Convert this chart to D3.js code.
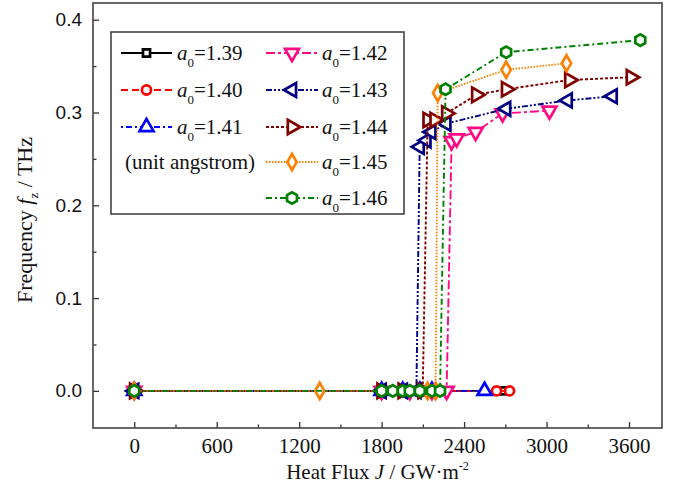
<!DOCTYPE html>
<html>
<head>
<meta charset="utf-8">
<script src="https://cdn.jsdelivr.net/npm/d3@7"></script>
<style>
  body { margin: 0; background: #fff; }
  svg { display: block; }
</style>
</head>
<body>
<script>
//==DATA==//
// heat flux J (GW/m2) and frequency f_z (THz) per lattice constant a0
const seriesNames = ["1.39", "1.40", "1.41", "1.42", "1.43", "1.44", "1.45", "1.46"];

const flux139 = [0, 1800, 1954, 2078, 2166, 2680];
const freq139 = [0, 0, 0, 0, 0, 0];
const flux140 = [0, 1800, 1954, 2078, 2166, 2636, 2731];
const freq140 = [0, 0, 0, 0, 0, 0, 0];
const flux141 = [0, 1800, 1954, 2078, 2166, 2549];
const freq141 = [0, 0, 0, 0, 0, 0];
const flux142 = [0, 1800, 2005, 2166, 2273, 2309, 2346, 2484, 2680, 3021];
const freq142 = [0, 0, 0, 0, 0, 0.269, 0.272, 0.279, 0.299, 0.302];
const flux143 = [0, 1800, 1954, 2053, 2077, 2126, 2162, 2271, 2706, 3154, 3481];
const freq143 = [0, 0, 0, 0, 0.263, 0.270, 0.279, 0.288, 0.304, 0.313, 0.3175];
const flux144 = [0, 1800, 1954, 2099, 2135, 2186, 2271, 2489, 2706, 3166, 3614];
const freq144 = [0, 0, 0, 0, 0.292, 0.292, 0.299, 0.319, 0.325, 0.335, 0.338];
const flux145 = [0, 1350, 2135, 2193, 2208, 2706, 3145];
const freq145 = [0, 0, 0, 0, 0.321, 0.346, 0.353];
const flux146 = [0, 1800, 1881, 1954, 2005, 2078, 2166, 2225, 2265, 2706, 3682];
const freq146 = [0, 0, 0, 0, 0, 0, 0, 0, 0.325, 0.365, 0.378];

const xTicks = [0, 600, 1200, 1800, 2400, 3000, 3600];
const xMinor = [300, 900, 1500, 2100, 2700, 3300];
const yTicks = [0, 0.1, 0.2, 0.3, 0.4];
const yMinor = [0.05, 0.15, 0.25, 0.35];

//==SVG AREA==//
const width = 675;
const height = 488;
const plotLeft = 93, plotRight = 662, plotTop = 3, plotBottom = 428;

const svg = d3.select("body")
  .append("svg")
  .attr("width", width)
  .attr("height", height);

const x = d3.scaleLinear().domain([-300, 3840]).range([plotLeft, plotRight]);
const y = d3.scaleLinear().domain([-0.04, 0.418]).range([plotBottom, plotTop]);

//==STYLES PER SERIES==//
const colors = ["#000000", "#ff0000", "#0000ff", "#ff0a84", "#000080", "#800000", "#ff8000", "#008000"];
const dashes = [null, "7,4", "2,3,6,3", "9,3,3,3", "6,2,2,2,2,2", "3,2", "1.5,1.5", "6,3,2,3"];

// hexagon symbol for the last series
const symbolHex = {
  draw(context, size) {
    const r = Math.sqrt(size / 2.598);
    for (let i = 0; i < 6; i++) {
      const a = Math.PI / 3 * i + Math.PI / 6;
      if (i === 0) context.moveTo(r * Math.cos(a), r * Math.sin(a));
      else context.lineTo(r * Math.cos(a), r * Math.sin(a));
    }
    context.closePath();
  }
};
const shapes = [
  {type: d3.symbolSquare, size: 50, rot: 0},
  {type: d3.symbolCircle, size: 65, rot: 0},
  {type: d3.symbolTriangle, size: 85, rot: 0},
  {type: d3.symbolTriangle, size: 85, rot: 180},
  {type: d3.symbolTriangle, size: 85, rot: -90},
  {type: d3.symbolTriangle, size: 90, rot: 90},
  {type: d3.symbolDiamond, size: 75, rot: 0},
  {type: symbolHex, size: 85, rot: 0}
];

const allFlux = [flux139, flux140, flux141, flux142, flux143, flux144, flux145, flux146];
const allFreq = [freq139, freq140, freq141, freq142, freq143, freq144, freq145, freq146];

const series = seriesNames.map((name, i) => ({
  name: name,
  color: colors[i],
  dash: dashes[i],
  shape: shapes[i],
  points: allFlux[i].map((j, k) => ({j: j, f: allFreq[i][k]}))
}));

//==AXES==//
const xAxis = d3.axisBottom(x)
  .tickValues(xTicks)
  .tickFormat(d3.format("d"))
  .tickSizeInner(-6)
  .tickSizeOuter(0)
  .tickPadding(10);

const gx = svg.append("g")
  .attr("transform", "translate(0," + plotBottom + ")")
  .call(xAxis);
gx.select(".domain").remove();
gx.selectAll("text")
  .attr("font-family", "'Liberation Serif', 'Times New Roman', serif")
  .attr("font-size", 21)
  .attr("fill", "#111");

const gxm = svg.append("g")
  .attr("transform", "translate(0," + plotBottom + ")")
  .call(d3.axisBottom(x).tickValues(xMinor).tickSize(-3.5).tickFormat(""));
gxm.select(".domain").remove();

const yAxis = d3.axisLeft(y)
  .tickValues(yTicks)
  .tickFormat(d3.format(".1f"))
  .tickSizeInner(-6)
  .tickSizeOuter(0)
  .tickPadding(11);

const gy = svg.append("g")
  .attr("transform", "translate(" + plotLeft + ",0)")
  .call(yAxis);
gy.select(".domain").remove();
gy.selectAll("text")
  .attr("font-family", "'Liberation Sans', Arial, sans-serif")
  .attr("font-size", 19)
  .attr("fill", "#111");

const gym = svg.append("g")
  .attr("transform", "translate(" + plotLeft + ",0)")
  .call(d3.axisLeft(y).tickValues(yMinor).tickSize(-3.5).tickFormat(""));
gym.select(".domain").remove();

svg.selectAll(".tick line").attr("stroke", "#333").attr("stroke-width", 1.3);

// frame
svg.append("rect")
  .attr("x", plotLeft)
  .attr("y", plotTop)
  .attr("width", plotRight - plotLeft)
  .attr("height", plotBottom - plotTop)
  .attr("fill", "none")
  .attr("stroke", "#444")
  .attr("stroke-width", 1.6);

//==SERIES==//
const line = d3.line().x(d => x(d.j)).y(d => y(d.f));
const sym = s => d3.symbol().type(s.type).size(s.size)();

series.forEach(s => {
  const g = svg.append("g");
  g.append("path")
    .datum(s.points)
    .attr("d", line)
    .attr("fill", "none")
    .attr("stroke", s.color)
    .attr("stroke-width", 1.9)
    .attr("stroke-dasharray", s.dash);
  g.selectAll("path.mark")
    .data(s.points)
    .enter()
    .append("path")
    .attr("class", "mark")
    .attr("d", sym(s.shape))
    .attr("transform", d => "translate(" + x(d.j) + "," + y(d.f) + ") rotate(" + s.shape.rot + ")")
    .attr("fill", "#fff")
    .attr("stroke", s.color)
    .attr("stroke-width", 2.7);
});

//==LEGEND==//
const legend = svg.append("g");
legend.append("rect")
  .attr("x", 111)
  .attr("y", 32)
  .attr("width", 293)
  .attr("height", 182)
  .attr("fill", "#fff")
  .attr("stroke", "#444")
  .attr("stroke-width", 1.6);

const rowY = [53, 90, 127, 162, 198];
const legendPos = series.map((s, i) => i < 3
  ? {x1: 121, x2: 172, tx: 177, y: rowY[i]}
  : {x1: 266, x2: 318, tx: 322, y: rowY[i - 3]});

series.forEach((s, i) => {
  const p = legendPos[i];
  const g = legend.append("g");
  g.append("line")
    .attr("x1", p.x1).attr("x2", p.x2)
    .attr("y1", p.y).attr("y2", p.y)
    .attr("stroke", s.color)
    .attr("stroke-width", 1.9)
    .attr("stroke-dasharray", s.dash);
  g.append("path")
    .attr("d", sym(s.shape))
    .attr("transform", "translate(" + (p.x1 + p.x2) / 2 + "," + p.y + ") rotate(" + s.shape.rot + ")")
    .attr("fill", "#fff")
    .attr("stroke", s.color)
    .attr("stroke-width", 2.7);
  const t = g.append("text")
    .attr("x", p.tx)
    .attr("y", p.y + 7)
    .attr("font-family", "'Liberation Serif', 'Times New Roman', serif")
    .attr("font-size", 21)
    .attr("fill", "#111");
  t.append("tspan").attr("font-style", "italic").text("a");
  t.append("tspan").attr("font-size", 13).attr("dy", 7).text("0");
  t.append("tspan").attr("dy", -7).text("=" + s.name);
});

legend.append("text")
  .attr("x", 125)
  .attr("y", rowY[3] + 7)
  .attr("font-family", "'Liberation Serif', 'Times New Roman', serif")
  .attr("font-size", 21)
  .attr("fill", "#111")
  .text("(unit angstrom)");

//==AXIS TITLES==//
const xt = svg.append("text")
  .attr("x", (plotLeft + plotRight) / 2)
  .attr("y", 479)
  .attr("text-anchor", "middle")
  .attr("font-family", "'Liberation Serif', 'Times New Roman', serif")
  .attr("font-size", 21)
  .attr("fill", "#111");
xt.append("tspan").text("Heat Flux ");
xt.append("tspan").attr("font-style", "italic").text("J");
xt.append("tspan").text(" / GW\u00b7m");
xt.append("tspan").attr("font-size", 12).attr("dy", -9).text("-2");

const yt = svg.append("text")
  .attr("transform", "translate(32," + 220 + ") rotate(-90)")
  .attr("text-anchor", "middle")
  .attr("font-family", "'Liberation Serif', 'Times New Roman', serif")
  .attr("font-size", 22)
  .attr("fill", "#111");
yt.append("tspan").text("Frequency ");
yt.append("tspan").attr("font-style", "italic").text("f");
yt.append("tspan").attr("font-size", 13).attr("dy", 6).text("z");
yt.append("tspan").attr("dy", -6).text(" / THz");
</script>
</body>
</html>
